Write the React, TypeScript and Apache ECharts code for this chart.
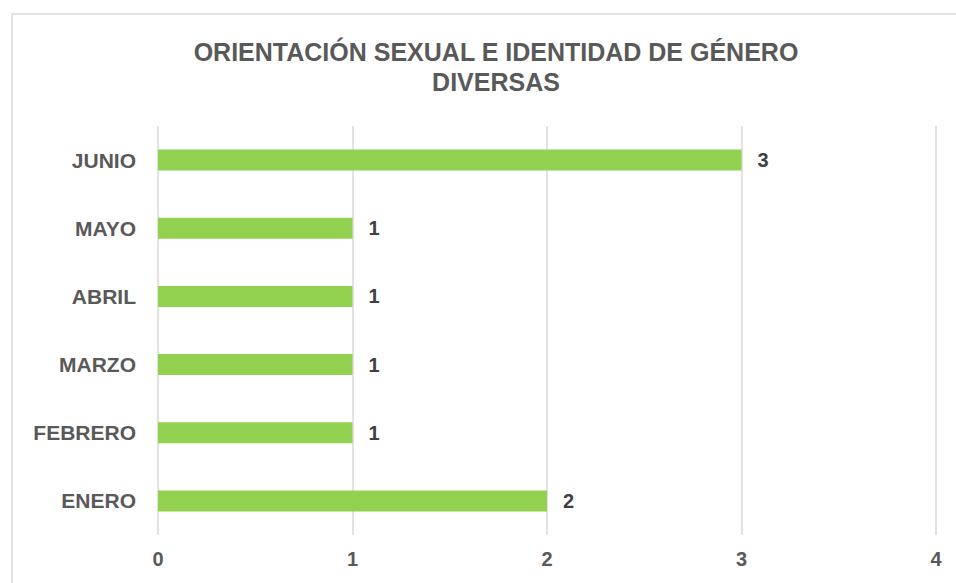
import React, { useEffect, useRef } from "react";
import * as echarts from "echarts";

const categories = ["ENERO", "FEBRERO", "MARZO", "ABRIL", "MAYO", "JUNIO"];
const values = [2, 1, 1, 1, 1, 3];
const titleText = "ORIENTACIÓN SEXUAL E IDENTIDAD DE GÉNERO\nDIVERSAS";

export default function App() {
  const ref = useRef<HTMLDivElement>(null);
  useEffect(() => {
    if (!ref.current) return;
    const chart = echarts.init(ref.current, null, { renderer: "svg" });
    const font = "'Liberation Sans', Arial, sans-serif";
    chart.setOption({
      animation: false,
      backgroundColor: "#ffffff",
      textStyle: { fontFamily: font },
      title: {
        text: titleText,
        left: 491,
        textAlign: "center",
        top: 32,
        textStyle: {
          fontFamily: font,
          fontSize: 25,
          fontWeight: "bold",
          color: "#595959",
          lineHeight: 30,
        },
      },
      graphic: [
        {
          type: "rect",
          shape: { x: 12, y: 14, width: 960, height: 600 },
          style: { fill: "none", stroke: "#d9d9d9", lineWidth: 1.5 },
          z: -1,
        },
      ],
      grid: { left: 158, right: 20, top: 126, bottom: 48 },
      xAxis: {
        type: "value",
        min: 0,
        max: 4,
        interval: 1,
        axisLine: { show: false },
        axisTick: { show: false },
        splitLine: { lineStyle: { color: "#d9d9d9", width: 1.5 } },
        axisLabel: {
          margin: 14,
          fontSize: 20,
          fontWeight: "bold",
          color: "#595959",
          fontFamily: font,
        },
      },
      yAxis: {
        type: "category",
        data: categories,
        axisLine: { show: false },
        axisTick: { show: false },
        axisLabel: {
          margin: 22,
          fontSize: 21,
          fontWeight: "bold",
          color: "#595959",
          fontFamily: font,
        },
      },
      series: [
        {
          type: "bar",
          data: values,
          barWidth: 21,
          itemStyle: { color: "#92D050" },
          label: {
            show: true,
            position: "right",
            distance: 16,
            fontSize: 20,
            fontWeight: "bold",
            color: "#404040",
            fontFamily: font,
          },
        },
      ],
    });
    return () => chart.dispose();
  }, []);
  return (
    <div
      ref={ref}
      style={{ position: "fixed", left: 0, top: 0, width: 956, height: 583 }}
    />
  );
}
